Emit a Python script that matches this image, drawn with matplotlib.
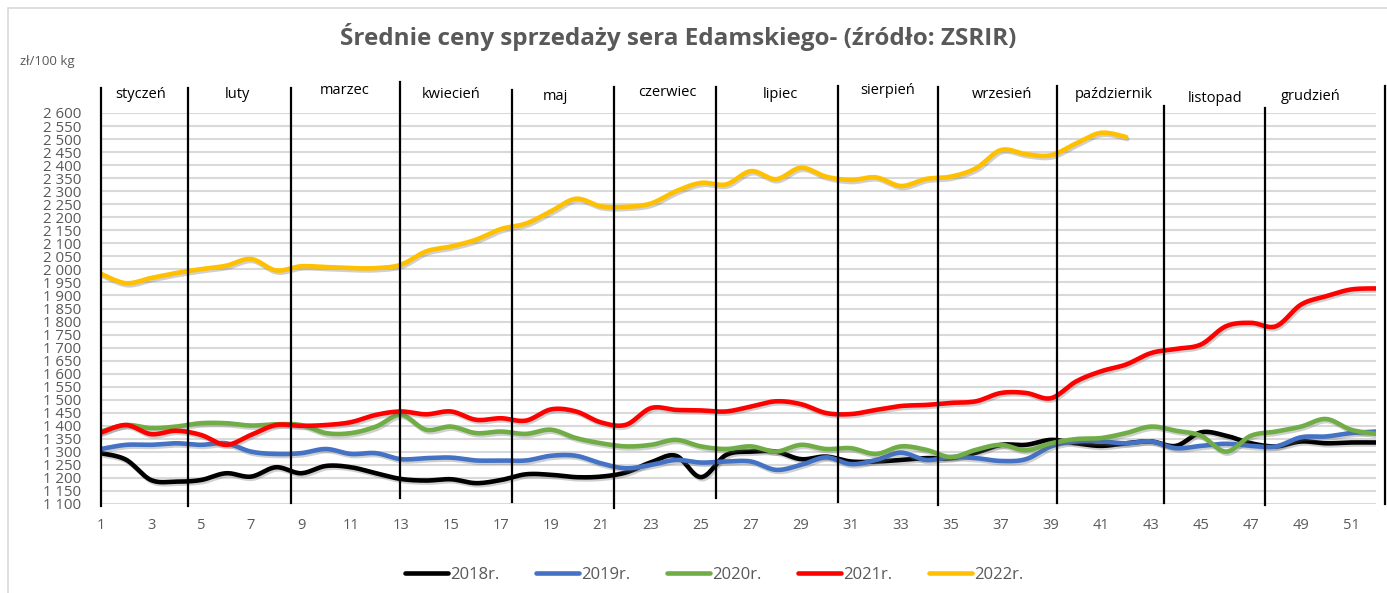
import numpy as np
import matplotlib
matplotlib.use("Agg")
import matplotlib.pyplot as plt
from matplotlib.lines import Line2D
from matplotlib.patches import Rectangle
import matplotlib.patheffects as pe

# ---------------- data ----------------
weeks = list(range(1, 53))

s2018 = [1295, 1270, 1192, 1186, 1192, 1218, 1205, 1241, 1218, 1246,
         1241, 1218, 1196, 1190, 1195, 1180, 1192, 1214, 1212, 1203,
         1205, 1221, 1260, 1285, 1203, 1288, 1301, 1301, 1272, 1282,
         1263, 1263, 1269, 1276, 1276, 1297, 1327, 1327, 1346, 1333,
         1323, 1333, 1340, 1323, 1375, 1362, 1333, 1321, 1340, 1333,
         1336, 1336]

s2019 = [1311, 1327, 1327, 1333, 1327, 1333, 1301, 1292, 1295, 1311,
         1292, 1295, 1272, 1276, 1278, 1267, 1267, 1267, 1285, 1285,
         1256, 1237, 1250, 1269, 1259, 1263, 1263, 1231, 1250, 1279,
         1253, 1269, 1297, 1269, 1280, 1276, 1265, 1272, 1321, 1340,
         1340, 1333, 1340, 1314, 1323, 1331, 1323, 1321, 1356, 1359,
         1372, 1378]

s2020 = [1378, 1403, 1391, 1397, 1410, 1410, 1401, 1406, 1403, 1372,
         1372, 1397, 1442, 1385, 1397, 1372, 1378, 1369, 1385, 1353,
         1333, 1321, 1327, 1346, 1321, 1311, 1321, 1301, 1327, 1311,
         1314, 1292, 1321, 1308, 1280, 1308, 1327, 1306, 1333, 1349,
         1353, 1372, 1397, 1381, 1362, 1301, 1362, 1378, 1397, 1426,
         1385, 1369]

s2021 = [1374, 1403, 1368, 1381, 1365, 1327, 1365, 1403, 1400, 1403,
         1414, 1442, 1455, 1444, 1455, 1423, 1429, 1420, 1463, 1455,
         1413, 1404, 1468, 1461, 1459, 1455, 1474, 1494, 1483, 1449,
         1445, 1461, 1476, 1480, 1488, 1494, 1526, 1526, 1506, 1570,
         1609, 1635, 1679, 1695, 1712, 1782, 1795, 1782, 1865, 1897,
         1923, 1927]

s2022 = [1983, 1947, 1967, 1986, 2001, 2014, 2040, 1996, 2012, 2009,
         2005, 2005, 2018, 2069, 2088, 2114, 2155, 2176, 2223, 2271,
         2242, 2240, 2253, 2300, 2332, 2326, 2377, 2346, 2390, 2356,
         2343, 2353, 2320, 2347, 2356, 2388, 2458, 2442, 2438, 2483,
         2524, 2508]

series_labels = ["2018r.", "2019r.", "2020r.", "2021r.", "2022r."]
series_colors = ["#000000", "#4472C4", "#70AD47", "#FF0000", "#FFC000"]

months = ["styczeń", "luty", "marzec", "kwiecień", "maj", "czerwiec",
          "lipiec", "sierpień", "wrzesień", "październik", "listopad", "grudzień"]

y_ticks = list(range(1100, 2601, 50))
x_ticks = list(range(1, 52, 2))

title = "Średnie ceny sprzedaży sera Edamskiego- (źródło: ZSRIR)"
unit_label = "zł/100 kg"

# ---------------- layout (pixels) ----------------
W, H = 1387, 593
AX_L, AX_R, AX_T, AX_B = 101, 1376, 113, 504
month_label_x = [141, 237, 345, 451, 555, 667, 780, 888, 1002, 1114, 1215, 1311]
month_label_y = [95, 95, 91, 95, 96, 93, 95, 91, 94, 95, 98, 96]
sep_x = [101, 188, 291, 400, 512, 614, 716, 838, 938, 1057, 1164, 1265, 1385]
sep_top = [88, 88, 88, 82, 90, 87, 87, 86, 87, 86, 106, 108, 86]
sep_bot = [506, 506, 503, 498, 502, 508, 498, 502, 505, 503, 503, 505, 504]

FONT = ["Open Sans", "DejaVu Sans"]
plt.rcParams["font.family"] = FONT
GRAY_TXT = "#595959"


def fx(px):
    return px / W


def fy(py):
    return 1 - py / H


def smooth(x, y, n=16):
    """Excel-like smoothed line (Bezier through the points)."""
    x = np.asarray(x, float)
    y = np.asarray(y, float)
    out_x, out_y = [], []
    t = np.linspace(0, 1, n, endpoint=False)
    m = len(x)
    for i in range(m - 1):
        x0, y0 = (x[i - 1], y[i - 1]) if i > 0 else (x[i], y[i])
        x3, y3 = (x[i + 2], y[i + 2]) if i + 2 < m else (x[i + 1], y[i + 1])
        c1x = x[i] + (x[i + 1] - x0) / 6
        c1y = y[i] + (y[i + 1] - y0) / 6
        c2x = x[i + 1] - (x3 - x[i]) / 6
        c2y = y[i + 1] - (y3 - y[i]) / 6
        bx = (1 - t) ** 3 * x[i] + 3 * (1 - t) ** 2 * t * c1x + 3 * (1 - t) * t ** 2 * c2x + t ** 3 * x[i + 1]
        by = (1 - t) ** 3 * y[i] + 3 * (1 - t) ** 2 * t * c1y + 3 * (1 - t) * t ** 2 * c2y + t ** 3 * y[i + 1]
        out_x.extend(bx)
        out_y.extend(by)
    out_x.append(x[-1])
    out_y.append(y[-1])
    return np.array(out_x), np.array(out_y)


fig = plt.figure(figsize=(W / 100, H / 100), dpi=100)
fig.patch.set_facecolor("white")

# outer chart border
fig.add_artist(Rectangle((fx(8), fy(600)), fx(1400) - fx(8), fy(8) - fy(600),
                         transform=fig.transFigure, fill=False,
                         edgecolor="#d9d9d9", lw=1.2, zorder=0))

ax = fig.add_axes([fx(AX_L), fy(AX_B), fx(AX_R) - fx(AX_L), fy(AX_T) - fy(AX_B)])
ax.set_xlim(1, 52)
ax.set_ylim(1100, 2600)
for s in ax.spines.values():
    s.set_visible(False)

for v in y_ticks:
    ax.axhline(v, color="#d9d9d9", lw=1.5, zorder=1)

ax.set_yticks(y_ticks)
ax.set_yticklabels([f"{v:,}".replace(",", " ") for v in y_ticks])
ax.set_xticks(x_ticks)
ax.set_xticklabels([str(v) for v in x_ticks])
ax.tick_params(axis="y", length=0, pad=14, labelsize=10.8, labelcolor=GRAY_TXT)
ax.tick_params(axis="x", length=0, pad=10, labelsize=10.5, labelcolor=GRAY_TXT)

all_series = [s2018, s2019, s2020, s2021, s2022]
handles = []
for vals, lab, col in zip(all_series, series_labels, series_colors):
    xs, ys = smooth(weeks[:len(vals)], vals)
    ax.plot(xs, ys, color=col, lw=3.3, solid_capstyle="round", zorder=3,
            path_effects=[pe.SimpleLineShadow(offset=(1.0, -1.5), shadow_color="#666666", alpha=0.3),
                          pe.Normal()])
    handles.append(Line2D([0], [0], color=col, lw=3.3, solid_capstyle="round"))

# month separators
for x, t, b in zip(sep_x, sep_top, sep_bot):
    fig.add_artist(Line2D([fx(x), fx(x)], [fy(t), fy(b)], transform=fig.transFigure,
                          color="black", lw=1.6, zorder=5))

# month labels
for lab, x, y in zip(months, month_label_x, month_label_y):
    fig.text(fx(x), fy(y), lab, ha="center", va="center", fontsize=10.5, color="black")

fig.text(fx(678), fy(37), title, ha="center", va="center", fontsize=17.5,
         fontweight="bold", color=GRAY_TXT)
fig.text(fx(20), fy(61), unit_label, ha="left", va="center", fontsize=9.5, color=GRAY_TXT)

fig.legend(handles, series_labels, loc="center", bbox_to_anchor=(fx(714), fy(575)),
           ncol=5, frameon=False, fontsize=12, handlelength=2.6, handletextpad=0.1,
           columnspacing=2.2, labelcolor=GRAY_TXT)

fig.savefig("out.png", dpi=100, facecolor="white")
